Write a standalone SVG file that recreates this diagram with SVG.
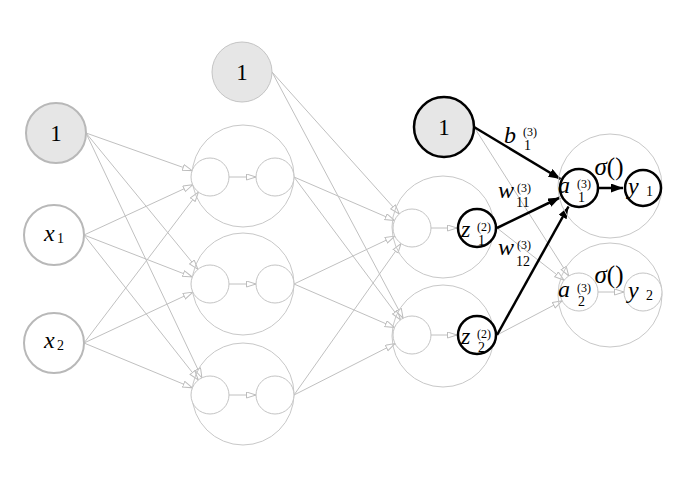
<svg xmlns="http://www.w3.org/2000/svg" width="687" height="496" viewBox="0 0 687 496" font-family="'Liberation Serif','Times New Roman',serif">
<defs>
<marker id="ga" markerUnits="userSpaceOnUse" markerWidth="12" markerHeight="8" refX="10" refY="3.5" orient="auto">
<path d="M0.5,0.5 L10,3.5 L0.5,6.5 z" fill="#ffffff" stroke="#bdbdbd" stroke-width="1"/>
</marker>
<marker id="ba" markerUnits="userSpaceOnUse" markerWidth="14" markerHeight="10" refX="12" refY="4.5" orient="auto">
<path d="M0,0 L12,4.5 L0,9 z" fill="#000000"/>
</marker>
</defs>
<style>
.ge{stroke:#c0c0c0;stroke-width:1;fill:none;marker-end:url(#ga)}
.be{stroke:#000;stroke-width:2.5;fill:none;marker-end:url(#ba)}
.in{stroke:#b8b8b8;stroke-width:2;fill:#ffffff}
.bias{stroke:#b8b8b8;stroke-width:2;fill:#e6e6e6}
.bias2{stroke:#c4c4c4;stroke-width:1;fill:#e6e6e6}
.bias3{stroke:#000;stroke-width:2.5;fill:#e6e6e6}
.big{stroke:#c8c8c8;stroke-width:1;fill:none}
.sm{stroke:#c4c4c4;stroke-width:1;fill:#ffffff}
.bold{stroke:#000;stroke-width:2.5;fill:#ffffff}
text{font-family:"Liberation Serif","Times New Roman",serif;fill:#000}
.t{font-size:23px}
.it{font-size:24px;font-style:italic}
.sup{font-size:12px}
.sub{font-size:14px}
</style>

<g id="connectors">
<line class="ge" x1="86" y1="133" x2="192.1" y2="170.6"/>
<line class="ge" x1="86" y1="133" x2="197.9" y2="269.3"/>
<line class="ge" x1="86" y1="133" x2="201.9" y2="377.8"/>
<line class="ge" x1="84" y1="235" x2="192.7" y2="184.8"/>
<line class="ge" x1="84" y1="235" x2="192.3" y2="277.0"/>
<line class="ge" x1="84" y1="235" x2="198.3" y2="380.0"/>
<line class="ge" x1="84" y1="343" x2="198.5" y2="192.1"/>
<line class="ge" x1="84" y1="343" x2="192.8" y2="292.1"/>
<line class="ge" x1="84" y1="343" x2="192.4" y2="387.8"/>
<line class="ge" x1="229" y1="177" x2="256" y2="177"/>
<line class="ge" x1="229" y1="284" x2="256" y2="284"/>
<line class="ge" x1="229" y1="395" x2="256" y2="395"/>
<line class="ge" x1="294" y1="177" x2="394.6" y2="220.5"/>
<line class="ge" x1="294" y1="177" x2="400.6" y2="319.8"/>
<line class="ge" x1="294" y1="284" x2="394.8" y2="236.1"/>
<line class="ge" x1="294" y1="284" x2="394.6" y2="327.5"/>
<line class="ge" x1="294" y1="395" x2="401.0" y2="243.5"/>
<line class="ge" x1="294" y1="395" x2="395.1" y2="343.6"/>
<line class="ge" x1="272" y1="72" x2="399.3" y2="213.9"/>
<line class="ge" x1="272" y1="72" x2="403.1" y2="318.2"/>
<line class="ge" x1="431" y1="228" x2="457" y2="228"/>
<line class="ge" x1="431" y1="335" x2="457" y2="335"/>
<line class="ge" x1="474" y1="127" x2="568.8" y2="276.0"/>
<line class="ge" x1="497" y1="228" x2="564.0" y2="280.3"/>
<line class="ge" x1="497" y1="335" x2="562.2" y2="300.8"/>
<line class="ge" x1="598" y1="292" x2="624" y2="292"/>
<line class="be" x1="474" y1="127" x2="560.5" y2="179.0"/>
<line class="be" x1="497" y1="228" x2="560.0" y2="197.5"/>
<line class="be" x1="497" y1="335" x2="568.5" y2="206.5"/>
<line class="be" x1="598" y1="188" x2="623" y2="188"/>
</g>

<g id="bias1"><circle class="bias" cx="56" cy="133" r="30"/><text class="t" x="56" y="141" text-anchor="middle">1</text></g>
<g id="x1"><circle class="in" cx="54" cy="235" r="30"/><text class="it" x="44" y="241">x</text><text class="sub" x="57" y="243">1</text></g>
<g id="x2"><circle class="in" cx="54" cy="343" r="30"/><text class="it" x="44" y="348">x</text><text class="sub" x="57" y="350">2</text></g>

<g id="bias2"><circle class="bias2" cx="242" cy="72" r="30"/><text class="t" x="242" y="80" text-anchor="middle">1</text></g>

<g id="l1n1"><circle class="big" cx="243" cy="176" r="51"/><circle class="sm" cx="210" cy="177" r="19"/><circle class="sm" cx="275" cy="177" r="19"/></g>
<g id="l1n2"><circle class="big" cx="243" cy="284" r="51"/><circle class="sm" cx="210" cy="284" r="19"/><circle class="sm" cx="275" cy="284" r="19"/></g>
<g id="l1n3"><circle class="big" cx="243" cy="394" r="51"/><circle class="sm" cx="210" cy="395" r="19"/><circle class="sm" cx="275" cy="395" r="19"/></g>

<g id="bias3"><circle class="bias3" cx="444" cy="127" r="30"/><text class="t" x="444" y="135" text-anchor="middle">1</text></g>

<g id="l2n1"><circle class="big" cx="443" cy="227" r="51"/><circle class="sm" cx="412" cy="228" r="19"/><circle class="bold" cx="477" cy="228" r="19"/>
<text class="it" x="461" y="237">z</text><text class="sup" x="477" y="231">(2)</text><text class="sub" x="478" y="245">1</text></g>
<g id="l2n2"><circle class="big" cx="443" cy="336" r="51"/><circle class="sm" cx="412" cy="335" r="19"/><circle class="bold" cx="477" cy="335" r="19"/>
<text class="it" x="461" y="344">z</text><text class="sup" x="477" y="338">(2)</text><text class="sub" x="478" y="352">2</text></g>

<g id="l3n1"><circle class="big" cx="610" cy="186" r="52"/><circle class="bold" cx="579" cy="188" r="19"/><circle class="bold" cx="643" cy="188" r="18"/>
<text x="609" y="175" text-anchor="middle" font-size="25"><tspan font-style="italic">σ</tspan>()</text>
<text class="it" x="558" y="193">a</text><text class="sup" x="577" y="188">(3)</text><text class="sub" x="578" y="202">1</text>
<text class="it" x="628" y="194">y</text><text class="sub" x="646" y="196">1</text></g>
<g id="l3n2"><circle class="big" cx="610" cy="295" r="52"/><circle class="sm" cx="579" cy="292" r="19"/><circle class="sm" cx="643" cy="292" r="19"/>
<text x="609" y="283" text-anchor="middle" font-size="25"><tspan font-style="italic">σ</tspan>()</text>
<text class="it" x="558" y="297">a</text><text class="sup" x="577" y="292">(3)</text><text class="sub" x="578" y="306">2</text>
<text class="it" x="628" y="298">y</text><text class="sub" x="646" y="300">2</text></g>

<g id="edge-labels">
<text class="it" x="504" y="143">b</text><text class="sup" x="523" y="136">(3)</text><text class="sub" x="524" y="150">1</text>
<text class="it" x="498" y="198">w</text><text class="sup" x="517" y="192">(3)</text><text class="sub" x="516" y="207">11</text>
<text class="it" x="498" y="255">w</text><text class="sup" x="517" y="249">(3)</text><text class="sub" x="516" y="266">12</text>
</g>
</svg>
